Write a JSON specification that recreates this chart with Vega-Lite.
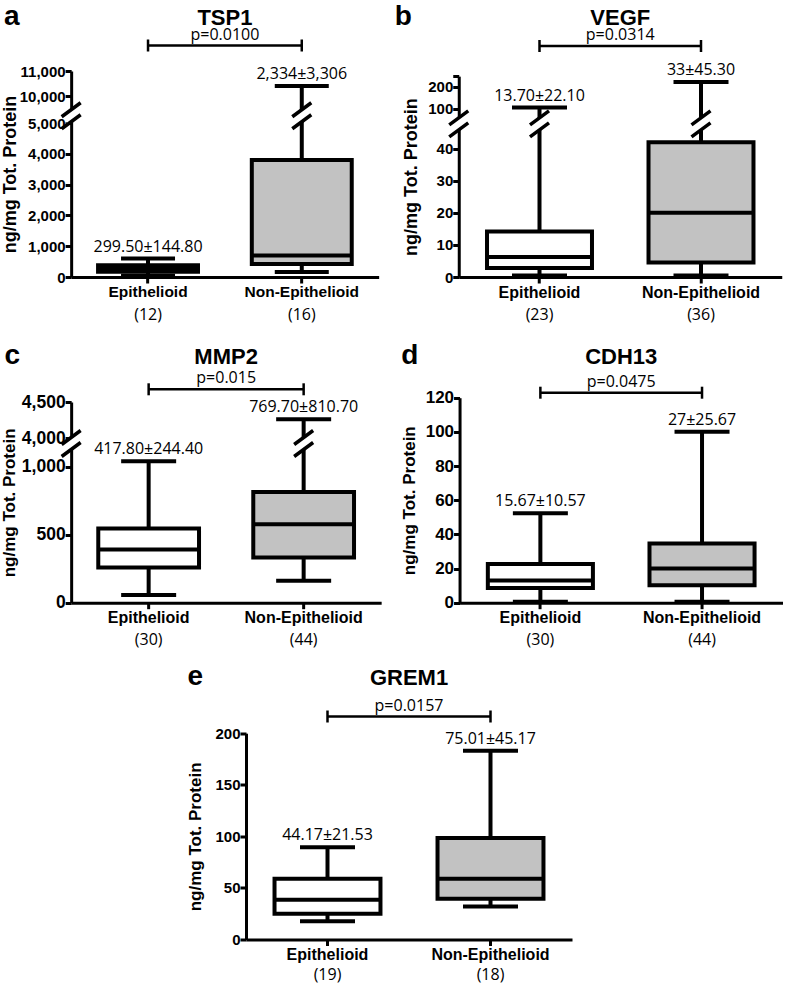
{
"$schema": "https://vega.github.io/schema/vega-lite/v6.json",
"background": "white",
"padding": {"left": 0, "top": 3, "right": 0, "bottom": 0},
"datasets": {
"boxes": [
{"panel":"a","group":"Epithelioid","n":"(12)","min":40,"q1":170,"median":270,"q3":380,"max":600,"meanSD":"299.50±144.80"},
{"panel":"a","group":"Non-Epithelioid","n":"(16)","min":160,"q1":420,"median":700,"q3":3800,"max":10400,"meanSD":"2,334±3,306"},
{"panel":"b","group":"Epithelioid","n":"(23)","min":0.5,"q1":2.8,"median":6.2,"q3":14.2,"max":105,"meanSD":"13.70±22.10"},
{"panel":"b","group":"Non-Epithelioid","n":"(36)","min":0.5,"q1":4.5,"median":20,"q3":42,"max":223,"meanSD":"33±45.30"},
{"panel":"c","group":"Epithelioid","n":"(30)","min":56,"q1":259,"median":391,"q3":545,"max":1040,"meanSD":"417.80±244.40"},
{"panel":"c","group":"Non-Epithelioid","n":"(44)","min":161,"q1":332,"median":576,"q3":813,"max":4260,"meanSD":"769.70±810.70"},
{"panel":"d","group":"Epithelioid","n":"(30)","min":0.6,"q1":8.6,"median":13,"q3":22.6,"max":52.4,"meanSD":"15.67±10.57"},
{"panel":"d","group":"Non-Epithelioid","n":"(44)","min":0.6,"q1":10.2,"median":20,"q3":34.7,"max":100,"meanSD":"27±25.67"},
{"panel":"e","group":"Epithelioid","n":"(19)","min":17.7,"q1":24.9,"median":38.5,"q3":58.8,"max":89.4,"meanSD":"44.17±21.53"},
{"panel":"e","group":"Non-Epithelioid","n":"(18)","min":32,"q1":39.4,"median":58.8,"q3":98.5,"max":183,"meanSD":"75.01±45.17"}
],
"headers": [
{"panel":"a","letter":"a","gene":"TSP1","p":"p=0.0100"},
{"panel":"b","letter":"b","gene":"VEGF","p":"p=0.0314"},
{"panel":"c","letter":"c","gene":"MMP2","p":"p=0.015"},
{"panel":"d","letter":"d","gene":"CDH13","p":"p=0.0475"},
{"panel":"e","letter":"e","gene":"GREM1","p":"p=0.0157"}
],
"breaks": [
{"panel":"a","where":"axis","group":"Epithelioid","value":7250},
{"panel":"a","where":"whisker","group":"Non-Epithelioid","value":7250},
{"panel":"b","where":"axis","group":"Epithelioid","value":57.5},
{"panel":"b","where":"whisker","group":"Epithelioid","value":57.5},
{"panel":"b","where":"whisker","group":"Non-Epithelioid","value":57.5},
{"panel":"c","where":"axis","group":"Epithelioid","value":2565},
{"panel":"c","where":"whisker","group":"Non-Epithelioid","value":2565}
]
},
"config": {
"view": {"stroke": null},
"axis": {"domainColor": "black", "domainWidth": 3, "tickColor": "black", "tickWidth": 3, "tickSize": 6, "labelColor": "black", "labelFont": "Liberation Sans", "labelFontWeight": "bold", "labelFontSize": 15, "labelPadding": 0, "labelOverlap": false, "labelFlush": false, "titleFont": "Liberation Sans", "titleFontWeight": "bold", "titleColor": "black", "titlePadding": 0, "grid": false},
"text": {"font": "Open Sans", "fontSize": 16, "color": "black"}
},
"vconcat": [
{"vconcat": [
{"hconcat": [
{
"width": 307.5, "height": 215,
"layer": [
{"data": {"name": "boxes"}, "transform": [{"filter": "datum.panel==='a'"}],
"mark": {"type": "rule", "strokeWidth": 4, "color": "black"},
"encoding": {
"x": {"field": "group", "type": "nominal", "scale": {"domain": ["Epithelioid","Non-Epithelioid"], "paddingInner": 0, "paddingOuter": 0}, "axis": {"title": null, "labelAngle": 0, "labelFontSize": 15.5, "labelPadding": 1}},
"y": {"field": "min", "type": "quantitative", "scale": {"domain": [0,5000,9500,11000], "range": [215,61,46.5,9], "nice": false, "zero": false}, "axis": {"title": "ng/mg Tot. Protein", "titleFontSize": 18, "titlePadding": 0, "labelFontSize": 15, "values": [0,1000,2000,3000,4000,5000,10000,11000], "tickCount": 50, "format": ",.0f", "labelOverlap": false}},
"y2": {"field": "max"}}},
{"data": {"name": "boxes"}, "transform": [{"filter": "datum.panel==='a'"}, {"fold": ["min","max"], "as": ["stat","v"]}],
"mark": {"type": "tick", "size": 54, "thickness": 4, "color": "black", "opacity": 1},
"encoding": {"x": {"field": "group", "type": "nominal"}, "y": {"field": "v", "type": "quantitative"}}},
{"data": {"name": "boxes"}, "transform": [{"filter": "datum.panel==='a'"}],
"mark": {"type": "bar", "stroke": "black", "strokeWidth": 4, "width": {"band": 0.65}},
"encoding": {"x": {"field": "group", "type": "nominal"}, "y": {"field": "q1", "type": "quantitative"}, "y2": {"field": "q3"}, "fill": {"field": "group", "type": "nominal", "scale": {"domain": ["Epithelioid","Non-Epithelioid"], "range": ["#ffffff","#c2c2c2"]}, "legend": null}}},
{"data": {"name": "boxes"}, "transform": [{"filter": "datum.panel==='a'"}],
"mark": {"type": "tick", "size": 100, "thickness": 4, "color": "black", "opacity": 1},
"encoding": {"x": {"field": "group", "type": "nominal"}, "y": {"field": "median", "type": "quantitative"}}},
{"data": {"name": "breaks"}, "transform": [{"filter": "datum.panel==='a' && datum.where==='whisker'"}],
"mark": {"type": "point", "shape": "M-0.3,-0.18L0.3,-0.62L0.3,0.18L-0.3,0.62Z", "size": 900, "filled": true, "color": "white", "opacity": 1, "strokeWidth": 0},
"encoding": {"x": {"field": "group", "type": "nominal"}, "y": {"field": "value", "type": "quantitative"}}},
{"data": {"name": "breaks"}, "transform": [{"filter": "datum.panel==='a' && datum.where==='whisker'"}],
"mark": {"type": "point", "shape": "M-0.633,0.067L0.633,-0.867M-0.633,0.867L0.633,-0.067", "size": 900, "filled": false, "color": "black", "opacity": 1, "strokeWidth": 3.5},
"encoding": {"x": {"field": "group", "type": "nominal"}, "y": {"field": "value", "type": "quantitative"}}},
{"data": {"name": "breaks"}, "transform": [{"filter": "datum.panel==='a' && datum.where==='axis'"}],
"mark": {"type": "point", "shape": "M-0.3,-0.18L0.3,-0.62L0.3,0.18L-0.3,0.62Z", "size": 900, "filled": true, "color": "white", "opacity": 1, "strokeWidth": 0},
"encoding": {"x": {"field": "group", "type": "nominal", "bandPosition": 0}, "y": {"field": "value", "type": "quantitative"}}},
{"data": {"name": "breaks"}, "transform": [{"filter": "datum.panel==='a' && datum.where==='axis'"}],
"mark": {"type": "point", "shape": "M-0.633,0.067L0.633,-0.867M-0.633,0.867L0.633,-0.067", "size": 900, "filled": false, "color": "black", "opacity": 1, "strokeWidth": 3.5},
"encoding": {"x": {"field": "group", "type": "nominal", "bandPosition": 0}, "y": {"field": "value", "type": "quantitative"}}},
{"data": {"name": "boxes"}, "transform": [{"filter": "datum.panel==='a'"}],
"mark": {"type": "text", "baseline": "alphabetic", "dy": -7},
"encoding": {"x": {"field": "group", "type": "nominal"}, "y": {"field": "max", "type": "quantitative"}, "text": {"field": "meanSD"}}},
{"data": {"name": "boxes"}, "transform": [{"filter": "datum.panel==='a'"}],
"mark": {"type": "text", "baseline": "alphabetic", "dy": 42.5},
"encoding": {"x": {"field": "group", "type": "nominal"}, "y": {"datum": 0, "type": "quantitative"}, "text": {"field": "n"}}},
{"data": {"name": "headers"}, "transform": [{"filter": "datum.panel==='a'"}],
"mark": {"type": "rule", "strokeWidth": 2.5, "color": "black", "yOffset": -25.5},
"encoding": {"x": {"datum": "Epithelioid", "bandPosition": 0.5}, "x2": {"datum": "Non-Epithelioid", "bandPosition": 0.5}, "y": {"datum": 11000, "type": "quantitative"}}},
{"data": {"name": "boxes"}, "transform": [{"filter": "datum.panel==='a'"}],
"mark": {"type": "point", "shape": "M0,-1L0,1", "size": 144, "filled": false, "color": "black", "strokeWidth": 2.5, "opacity": 1, "yOffset": -25.5},
"encoding": {"x": {"field": "group", "type": "nominal"}, "y": {"datum": 11000, "type": "quantitative"}}},
{"data": {"name": "headers"}, "transform": [{"filter": "datum.panel==='a'"}],
"mark": {"type": "text", "baseline": "alphabetic", "yOffset": -25.5, "dy": -6},
"encoding": {"x": {"datum": "Non-Epithelioid", "bandPosition": 0}, "y": {"datum": 11000, "type": "quantitative"}, "text": {"field": "p"}}},
{"data": {"name": "headers"}, "transform": [{"filter": "datum.panel==='a'"}],
"mark": {"type": "text", "baseline": "alphabetic", "yOffset": -46, "font": "Liberation Sans", "fontWeight": "bold", "fontSize": 22},
"encoding": {"x": {"datum": "Non-Epithelioid", "bandPosition": 0}, "y": {"datum": 11000, "type": "quantitative"}, "text": {"field": "gene"}}},
{"data": {"name": "headers"}, "transform": [{"filter": "datum.panel==='a'"}],
"mark": {"type": "text", "baseline": "alphabetic", "align": "left", "yOffset": -46, "dx": -67.2, "font": "Liberation Sans", "fontWeight": "bold", "fontSize": 28},
"encoding": {"x": {"datum": "Epithelioid", "bandPosition": 0}, "y": {"datum": 11000, "type": "quantitative"}, "text": {"field": "letter"}}}
]
},
{
"width": 323, "height": 215,
"layer": [
{"data": {"name": "boxes"}, "transform": [{"filter": "datum.panel==='b'"}],
"mark": {"type": "rule", "strokeWidth": 4, "color": "black"},
"encoding": {
"x": {"field": "group", "type": "nominal", "scale": {"domain": ["Epithelioid","Non-Epithelioid"], "paddingInner": 0, "paddingOuter": 0}, "axis": {"title": null, "labelAngle": 0, "labelFontSize": 16, "labelPadding": 1}},
"y": {"field": "min", "type": "quantitative", "scale": {"domain": [0,45,70,250], "range": [215,70.55,53.2,14.15], "nice": false, "zero": false}, "axis": {"title": "ng/mg Tot. Protein", "titleFontSize": 18, "titlePadding": 6.8, "labelFontSize": 15, "values": [0,10,20,30,40,100,200,250], "tickCount": 50, "format": ",.0f", "labelOverlap": false, "labelExpr": "datum.value === 250 ? '' : datum.label"}},
"y2": {"field": "max"}}},
{"data": {"name": "boxes"}, "transform": [{"filter": "datum.panel==='b'"}, {"fold": ["min","max"], "as": ["stat","v"]}],
"mark": {"type": "tick", "size": 55, "thickness": 4, "color": "black", "opacity": 1},
"encoding": {"x": {"field": "group", "type": "nominal"}, "y": {"field": "v", "type": "quantitative"}}},
{"data": {"name": "boxes"}, "transform": [{"filter": "datum.panel==='b'"}],
"mark": {"type": "bar", "stroke": "black", "strokeWidth": 4, "width": {"band": 0.65}},
"encoding": {"x": {"field": "group", "type": "nominal"}, "y": {"field": "q1", "type": "quantitative"}, "y2": {"field": "q3"}, "fill": {"field": "group", "type": "nominal", "scale": {"domain": ["Epithelioid","Non-Epithelioid"], "range": ["#ffffff","#c2c2c2"]}, "legend": null}}},
{"data": {"name": "boxes"}, "transform": [{"filter": "datum.panel==='b'"}],
"mark": {"type": "tick", "size": 105, "thickness": 4, "color": "black", "opacity": 1},
"encoding": {"x": {"field": "group", "type": "nominal"}, "y": {"field": "median", "type": "quantitative"}}},
{"data": {"name": "breaks"}, "transform": [{"filter": "datum.panel==='b' && datum.where==='whisker'"}],
"mark": {"type": "point", "shape": "M-0.3,-0.18L0.3,-0.62L0.3,0.18L-0.3,0.62Z", "size": 900, "filled": true, "color": "white", "opacity": 1, "strokeWidth": 0},
"encoding": {"x": {"field": "group", "type": "nominal"}, "y": {"field": "value", "type": "quantitative"}}},
{"data": {"name": "breaks"}, "transform": [{"filter": "datum.panel==='b' && datum.where==='whisker'"}],
"mark": {"type": "point", "shape": "M-0.633,0.067L0.633,-0.867M-0.633,0.867L0.633,-0.067", "size": 900, "filled": false, "color": "black", "opacity": 1, "strokeWidth": 3.5},
"encoding": {"x": {"field": "group", "type": "nominal"}, "y": {"field": "value", "type": "quantitative"}}},
{"data": {"name": "breaks"}, "transform": [{"filter": "datum.panel==='b' && datum.where==='axis'"}],
"mark": {"type": "point", "shape": "M-0.3,-0.18L0.3,-0.62L0.3,0.18L-0.3,0.62Z", "size": 900, "filled": true, "color": "white", "opacity": 1, "strokeWidth": 0},
"encoding": {"x": {"field": "group", "type": "nominal", "bandPosition": 0}, "y": {"field": "value", "type": "quantitative"}}},
{"data": {"name": "breaks"}, "transform": [{"filter": "datum.panel==='b' && datum.where==='axis'"}],
"mark": {"type": "point", "shape": "M-0.633,0.067L0.633,-0.867M-0.633,0.867L0.633,-0.067", "size": 900, "filled": false, "color": "black", "opacity": 1, "strokeWidth": 3.5},
"encoding": {"x": {"field": "group", "type": "nominal", "bandPosition": 0}, "y": {"field": "value", "type": "quantitative"}}},
{"data": {"name": "boxes"}, "transform": [{"filter": "datum.panel==='b'"}],
"mark": {"type": "text", "baseline": "alphabetic", "dy": -7},
"encoding": {"x": {"field": "group", "type": "nominal"}, "y": {"field": "max", "type": "quantitative"}, "text": {"field": "meanSD"}}},
{"data": {"name": "boxes"}, "transform": [{"filter": "datum.panel==='b'"}],
"mark": {"type": "text", "baseline": "alphabetic", "dy": 42.5},
"encoding": {"x": {"field": "group", "type": "nominal"}, "y": {"datum": 0, "type": "quantitative"}, "text": {"field": "n"}}},
{"data": {"name": "headers"}, "transform": [{"filter": "datum.panel==='b'"}],
"mark": {"type": "rule", "strokeWidth": 2.5, "color": "black", "yOffset": -30.15},
"encoding": {"x": {"datum": "Epithelioid", "bandPosition": 0.5}, "x2": {"datum": "Non-Epithelioid", "bandPosition": 0.5}, "y": {"datum": 250, "type": "quantitative"}}},
{"data": {"name": "boxes"}, "transform": [{"filter": "datum.panel==='b'"}],
"mark": {"type": "point", "shape": "M0,-1L0,1", "size": 144, "filled": false, "color": "black", "strokeWidth": 2.5, "opacity": 1, "yOffset": -30.15},
"encoding": {"x": {"field": "group", "type": "nominal"}, "y": {"datum": 250, "type": "quantitative"}}},
{"data": {"name": "headers"}, "transform": [{"filter": "datum.panel==='b'"}],
"mark": {"type": "text", "baseline": "alphabetic", "yOffset": -30.15, "dy": -6},
"encoding": {"x": {"datum": "Non-Epithelioid", "bandPosition": 0}, "y": {"datum": 250, "type": "quantitative"}, "text": {"field": "p"}}},
{"data": {"name": "headers"}, "transform": [{"filter": "datum.panel==='b'"}],
"mark": {"type": "text", "baseline": "alphabetic", "yOffset": -51.15, "font": "Liberation Sans", "fontWeight": "bold", "fontSize": 22},
"encoding": {"x": {"datum": "Non-Epithelioid", "bandPosition": 0}, "y": {"datum": 250, "type": "quantitative"}, "text": {"field": "gene"}}},
{"data": {"name": "headers"}, "transform": [{"filter": "datum.panel==='b'"}],
"mark": {"type": "text", "baseline": "alphabetic", "align": "left", "yOffset": -51.15, "dx": -64, "font": "Liberation Sans", "fontWeight": "bold", "fontSize": 28},
"encoding": {"x": {"datum": "Epithelioid", "bandPosition": 0}, "y": {"datum": 250, "type": "quantitative"}, "text": {"field": "letter"}}}
]
}
], "spacing": 15.6},
{"hconcat": [
{
"width": 310, "height": 211.7,
"layer": [
{"data": {"name": "boxes"}, "transform": [{"filter": "datum.panel==='c'"}],
"mark": {"type": "rule", "strokeWidth": 4, "color": "black"},
"encoding": {
"x": {"field": "group", "type": "nominal", "scale": {"domain": ["Epithelioid","Non-Epithelioid"], "paddingInner": 0, "paddingOuter": 0}, "axis": {"title": null, "labelAngle": 0, "labelFontSize": 16, "labelPadding": 1}},
"y": {"field": "min", "type": "quantitative", "scale": {"domain": [0,1130,4000,4500], "range": [211.7,58,47,11], "nice": false, "zero": false}, "axis": {"title": "ng/mg Tot. Protein", "titleFontSize": 17, "titlePadding": 2.6, "labelFontSize": 17.5, "values": [0,500,1000,4000,4500], "tickCount": 50, "format": ",.0f", "labelOverlap": false}},
"y2": {"field": "max"}}},
{"data": {"name": "boxes"}, "transform": [{"filter": "datum.panel==='c'"}, {"fold": ["min","max"], "as": ["stat","v"]}],
"mark": {"type": "tick", "size": 55, "thickness": 4, "color": "black", "opacity": 1},
"encoding": {"x": {"field": "group", "type": "nominal"}, "y": {"field": "v", "type": "quantitative"}}},
{"data": {"name": "boxes"}, "transform": [{"filter": "datum.panel==='c'"}],
"mark": {"type": "bar", "stroke": "black", "strokeWidth": 4, "width": {"band": 0.65}},
"encoding": {"x": {"field": "group", "type": "nominal"}, "y": {"field": "q1", "type": "quantitative"}, "y2": {"field": "q3"}, "fill": {"field": "group", "type": "nominal", "scale": {"domain": ["Epithelioid","Non-Epithelioid"], "range": ["#ffffff","#c2c2c2"]}, "legend": null}}},
{"data": {"name": "boxes"}, "transform": [{"filter": "datum.panel==='c'"}],
"mark": {"type": "tick", "size": 101, "thickness": 4, "color": "black", "opacity": 1},
"encoding": {"x": {"field": "group", "type": "nominal"}, "y": {"field": "median", "type": "quantitative"}}},
{"data": {"name": "breaks"}, "transform": [{"filter": "datum.panel==='c' && datum.where==='whisker'"}],
"mark": {"type": "point", "shape": "M-0.3,-0.18L0.3,-0.62L0.3,0.18L-0.3,0.62Z", "size": 900, "filled": true, "color": "white", "opacity": 1, "strokeWidth": 0},
"encoding": {"x": {"field": "group", "type": "nominal"}, "y": {"field": "value", "type": "quantitative"}}},
{"data": {"name": "breaks"}, "transform": [{"filter": "datum.panel==='c' && datum.where==='whisker'"}],
"mark": {"type": "point", "shape": "M-0.633,0.067L0.633,-0.867M-0.633,0.867L0.633,-0.067", "size": 900, "filled": false, "color": "black", "opacity": 1, "strokeWidth": 3.5},
"encoding": {"x": {"field": "group", "type": "nominal"}, "y": {"field": "value", "type": "quantitative"}}},
{"data": {"name": "breaks"}, "transform": [{"filter": "datum.panel==='c' && datum.where==='axis'"}],
"mark": {"type": "point", "shape": "M-0.3,-0.18L0.3,-0.62L0.3,0.18L-0.3,0.62Z", "size": 900, "filled": true, "color": "white", "opacity": 1, "strokeWidth": 0},
"encoding": {"x": {"field": "group", "type": "nominal", "bandPosition": 0}, "y": {"field": "value", "type": "quantitative"}}},
{"data": {"name": "breaks"}, "transform": [{"filter": "datum.panel==='c' && datum.where==='axis'"}],
"mark": {"type": "point", "shape": "M-0.633,0.067L0.633,-0.867M-0.633,0.867L0.633,-0.067", "size": 900, "filled": false, "color": "black", "opacity": 1, "strokeWidth": 3.5},
"encoding": {"x": {"field": "group", "type": "nominal", "bandPosition": 0}, "y": {"field": "value", "type": "quantitative"}}},
{"data": {"name": "boxes"}, "transform": [{"filter": "datum.panel==='c'"}],
"mark": {"type": "text", "baseline": "alphabetic", "dy": -7},
"encoding": {"x": {"field": "group", "type": "nominal"}, "y": {"field": "max", "type": "quantitative"}, "text": {"field": "meanSD"}}},
{"data": {"name": "boxes"}, "transform": [{"filter": "datum.panel==='c'"}],
"mark": {"type": "text", "baseline": "alphabetic", "dy": 42},
"encoding": {"x": {"field": "group", "type": "nominal"}, "y": {"datum": 0, "type": "quantitative"}, "text": {"field": "n"}}},
{"data": {"name": "headers"}, "transform": [{"filter": "datum.panel==='c'"}],
"mark": {"type": "rule", "strokeWidth": 2.5, "color": "black", "yOffset": -12.7},
"encoding": {"x": {"datum": "Epithelioid", "bandPosition": 0.5}, "x2": {"datum": "Non-Epithelioid", "bandPosition": 0.5}, "y": {"datum": 4500, "type": "quantitative"}}},
{"data": {"name": "boxes"}, "transform": [{"filter": "datum.panel==='c'"}],
"mark": {"type": "point", "shape": "M0,-1L0,1", "size": 144, "filled": false, "color": "black", "strokeWidth": 2.5, "opacity": 1, "yOffset": -12.7},
"encoding": {"x": {"field": "group", "type": "nominal"}, "y": {"datum": 4500, "type": "quantitative"}}},
{"data": {"name": "headers"}, "transform": [{"filter": "datum.panel==='c'"}],
"mark": {"type": "text", "baseline": "alphabetic", "yOffset": -12.7, "dy": -6},
"encoding": {"x": {"datum": "Non-Epithelioid", "bandPosition": 0}, "y": {"datum": 4500, "type": "quantitative"}, "text": {"field": "p"}}},
{"data": {"name": "headers"}, "transform": [{"filter": "datum.panel==='c'"}],
"mark": {"type": "text", "baseline": "alphabetic", "yOffset": -38, "font": "Liberation Sans", "fontWeight": "bold", "fontSize": 22},
"encoding": {"x": {"datum": "Non-Epithelioid", "bandPosition": 0}, "y": {"datum": 4500, "type": "quantitative"}, "text": {"field": "gene"}}},
{"data": {"name": "headers"}, "transform": [{"filter": "datum.panel==='c'"}],
"mark": {"type": "text", "baseline": "alphabetic", "align": "left", "yOffset": -38, "dx": -66.7, "font": "Liberation Sans", "fontWeight": "bold", "fontSize": 28},
"encoding": {"x": {"datum": "Epithelioid", "bandPosition": 0}, "y": {"datum": 4500, "type": "quantitative"}, "text": {"field": "letter"}}}
]
},
{
"width": 323.3, "height": 211.7,
"layer": [
{"data": {"name": "boxes"}, "transform": [{"filter": "datum.panel==='d'"}],
"mark": {"type": "rule", "strokeWidth": 4, "color": "black"},
"encoding": {
"x": {"field": "group", "type": "nominal", "scale": {"domain": ["Epithelioid","Non-Epithelioid"], "paddingInner": 0, "paddingOuter": 0}, "axis": {"title": null, "labelAngle": 0, "labelFontSize": 16, "labelPadding": 1}},
"y": {"field": "min", "type": "quantitative", "scale": {"domain": [0,120], "range": [211.7,6.7], "nice": false, "zero": false}, "axis": {"title": "ng/mg Tot. Protein", "titleFontSize": 17, "titlePadding": 6.8, "labelFontSize": 17, "values": [0,20,40,60,80,100,120], "tickCount": 50, "labelOverlap": false}},
"y2": {"field": "max"}}},
{"data": {"name": "boxes"}, "transform": [{"filter": "datum.panel==='d'"}, {"fold": ["min","max"], "as": ["stat","v"]}],
"mark": {"type": "tick", "size": 55, "thickness": 4, "color": "black", "opacity": 1},
"encoding": {"x": {"field": "group", "type": "nominal"}, "y": {"field": "v", "type": "quantitative"}}},
{"data": {"name": "boxes"}, "transform": [{"filter": "datum.panel==='d'"}],
"mark": {"type": "bar", "stroke": "black", "strokeWidth": 4, "width": {"band": 0.65}},
"encoding": {"x": {"field": "group", "type": "nominal"}, "y": {"field": "q1", "type": "quantitative"}, "y2": {"field": "q3"}, "fill": {"field": "group", "type": "nominal", "scale": {"domain": ["Epithelioid","Non-Epithelioid"], "range": ["#ffffff","#c2c2c2"]}, "legend": null}}},
{"data": {"name": "boxes"}, "transform": [{"filter": "datum.panel==='d'"}],
"mark": {"type": "tick", "size": 105, "thickness": 4, "color": "black", "opacity": 1},
"encoding": {"x": {"field": "group", "type": "nominal"}, "y": {"field": "median", "type": "quantitative"}}},
{"data": {"name": "boxes"}, "transform": [{"filter": "datum.panel==='d'"}],
"mark": {"type": "text", "baseline": "alphabetic", "dy": -7},
"encoding": {"x": {"field": "group", "type": "nominal"}, "y": {"field": "max", "type": "quantitative"}, "text": {"field": "meanSD"}}},
{"data": {"name": "boxes"}, "transform": [{"filter": "datum.panel==='d'"}],
"mark": {"type": "text", "baseline": "alphabetic", "dy": 42},
"encoding": {"x": {"field": "group", "type": "nominal"}, "y": {"datum": 0, "type": "quantitative"}, "text": {"field": "n"}}},
{"data": {"name": "headers"}, "transform": [{"filter": "datum.panel==='d'"}],
"mark": {"type": "rule", "strokeWidth": 2.5, "color": "black", "yOffset": -5},
"encoding": {"x": {"datum": "Epithelioid", "bandPosition": 0.5}, "x2": {"datum": "Non-Epithelioid", "bandPosition": 0.5}, "y": {"datum": 120, "type": "quantitative"}}},
{"data": {"name": "boxes"}, "transform": [{"filter": "datum.panel==='d'"}],
"mark": {"type": "point", "shape": "M0,-1L0,1", "size": 144, "filled": false, "color": "black", "strokeWidth": 2.5, "opacity": 1, "yOffset": -5},
"encoding": {"x": {"field": "group", "type": "nominal"}, "y": {"datum": 120, "type": "quantitative"}}},
{"data": {"name": "headers"}, "transform": [{"filter": "datum.panel==='d'"}],
"mark": {"type": "text", "baseline": "alphabetic", "yOffset": -5, "dy": -6},
"encoding": {"x": {"datum": "Non-Epithelioid", "bandPosition": 0}, "y": {"datum": 120, "type": "quantitative"}, "text": {"field": "p"}}},
{"data": {"name": "headers"}, "transform": [{"filter": "datum.panel==='d'"}],
"mark": {"type": "text", "baseline": "alphabetic", "yOffset": -33.7, "font": "Liberation Sans", "fontWeight": "bold", "fontSize": 22},
"encoding": {"x": {"datum": "Non-Epithelioid", "bandPosition": 0}, "y": {"datum": 120, "type": "quantitative"}, "text": {"field": "gene"}}},
{"data": {"name": "headers"}, "transform": [{"filter": "datum.panel==='d'"}],
"mark": {"type": "text", "baseline": "alphabetic", "align": "left", "yOffset": -33.7, "dx": -58.4, "font": "Liberation Sans", "fontWeight": "bold", "fontSize": 28},
"encoding": {"x": {"datum": "Epithelioid", "bandPosition": 0}, "y": {"datum": 120, "type": "quantitative"}, "text": {"field": "letter"}}}
]
}
], "spacing": 18.4}
], "spacing": 19},
{
"width": 362, "height": 214,
"layer": [
{"data": {"name": "boxes"}, "transform": [{"filter": "datum.panel==='e'"}],
"mark": {"type": "rule", "strokeWidth": 4, "color": "black"},
"encoding": {
"x": {"field": "group", "type": "nominal", "scale": {"domain": ["Epithelioid","Non-Epithelioid"], "range": [0, 326], "paddingInner": 0, "paddingOuter": 0}, "axis": {"title": null, "labelAngle": 0, "labelFontSize": 16, "labelPadding": 1}},
"y": {"field": "min", "type": "quantitative", "scale": {"domain": [0,200], "range": [214,7.7], "nice": false, "zero": false}, "axis": {"title": "ng/mg Tot. Protein", "titleFontSize": 17, "titlePadding": 10, "labelFontSize": 15, "values": [0,50,100,150,200], "tickCount": 50, "labelOverlap": false}},
"y2": {"field": "max"}}},
{"data": {"name": "boxes"}, "transform": [{"filter": "datum.panel==='e'"}, {"fold": ["min","max"], "as": ["stat","v"]}],
"mark": {"type": "tick", "size": 55, "thickness": 4, "color": "black", "opacity": 1},
"encoding": {"x": {"field": "group", "type": "nominal"}, "y": {"field": "v", "type": "quantitative"}}},
{"data": {"name": "boxes"}, "transform": [{"filter": "datum.panel==='e'"}],
"mark": {"type": "bar", "stroke": "black", "strokeWidth": 4, "width": {"band": 0.65}},
"encoding": {"x": {"field": "group", "type": "nominal"}, "y": {"field": "q1", "type": "quantitative"}, "y2": {"field": "q3"}, "fill": {"field": "group", "type": "nominal", "scale": {"domain": ["Epithelioid","Non-Epithelioid"], "range": ["#ffffff","#c2c2c2"]}, "legend": null}}},
{"data": {"name": "boxes"}, "transform": [{"filter": "datum.panel==='e'"}],
"mark": {"type": "tick", "size": 106, "thickness": 4, "color": "black", "opacity": 1},
"encoding": {"x": {"field": "group", "type": "nominal"}, "y": {"field": "median", "type": "quantitative"}}},
{"data": {"name": "boxes"}, "transform": [{"filter": "datum.panel==='e'"}],
"mark": {"type": "text", "baseline": "alphabetic", "dy": -7},
"encoding": {"x": {"field": "group", "type": "nominal"}, "y": {"field": "max", "type": "quantitative"}, "text": {"field": "meanSD"}}},
{"data": {"name": "boxes"}, "transform": [{"filter": "datum.panel==='e'"}],
"mark": {"type": "text", "baseline": "alphabetic", "dy": 40},
"encoding": {"x": {"field": "group", "type": "nominal"}, "y": {"datum": 0, "type": "quantitative"}, "text": {"field": "n"}}},
{"data": {"name": "headers"}, "transform": [{"filter": "datum.panel==='e'"}],
"mark": {"type": "rule", "strokeWidth": 2.5, "color": "black", "yOffset": -16.7},
"encoding": {"x": {"datum": "Epithelioid", "bandPosition": 0.5}, "x2": {"datum": "Non-Epithelioid", "bandPosition": 0.5}, "y": {"datum": 200, "type": "quantitative"}}},
{"data": {"name": "boxes"}, "transform": [{"filter": "datum.panel==='e'"}],
"mark": {"type": "point", "shape": "M0,-1L0,1", "size": 144, "filled": false, "color": "black", "strokeWidth": 2.5, "opacity": 1, "yOffset": -16.7},
"encoding": {"x": {"field": "group", "type": "nominal"}, "y": {"datum": 200, "type": "quantitative"}}},
{"data": {"name": "headers"}, "transform": [{"filter": "datum.panel==='e'"}],
"mark": {"type": "text", "baseline": "alphabetic", "yOffset": -16.7, "dy": -6},
"encoding": {"x": {"datum": "Non-Epithelioid", "bandPosition": 0}, "y": {"datum": 200, "type": "quantitative"}, "text": {"field": "p"}}},
{"data": {"name": "headers"}, "transform": [{"filter": "datum.panel==='e'"}],
"mark": {"type": "text", "baseline": "alphabetic", "yOffset": -48, "font": "Liberation Sans", "fontWeight": "bold", "fontSize": 22},
"encoding": {"x": {"datum": "Non-Epithelioid", "bandPosition": 0}, "y": {"datum": 200, "type": "quantitative"}, "text": {"field": "gene"}}},
{"data": {"name": "headers"}, "transform": [{"filter": "datum.panel==='e'"}],
"mark": {"type": "text", "baseline": "alphabetic", "align": "left", "yOffset": -48, "dx": -58.4, "font": "Liberation Sans", "fontWeight": "bold", "fontSize": 28},
"encoding": {"x": {"datum": "Epithelioid", "bandPosition": 0}, "y": {"datum": 200, "type": "quantitative"}, "text": {"field": "letter"}}}
]
}
],
"spacing": 14.5,
"center": true
}
